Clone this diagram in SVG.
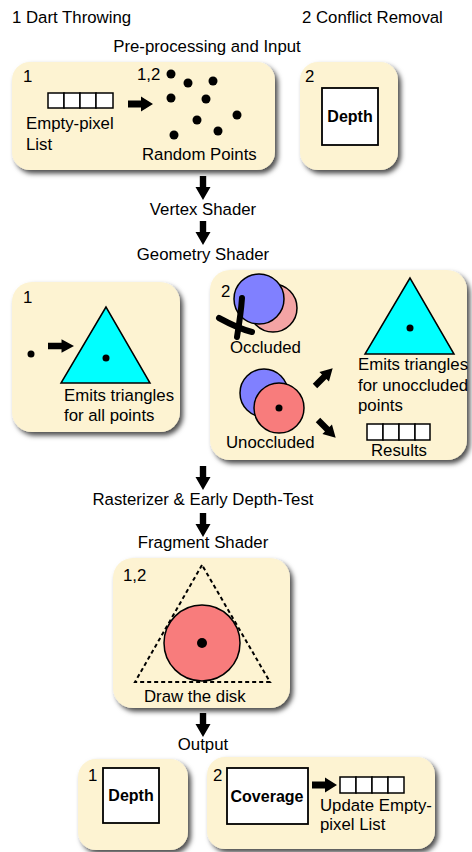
<svg xmlns="http://www.w3.org/2000/svg" width="472" height="852" viewBox="0 0 472 852">
<defs>
<filter id="sh" x="-10%" y="-10%" width="130%" height="130%">
<feDropShadow dx="3" dy="3.5" stdDeviation="2.5" flood-color="#000" flood-opacity="0.7"/>
</filter>
<path id="arr" d="M0,-3.5 H13 V-7.5 L25,0 L13,7.5 V3.5 H0 Z" fill="#000"/>
<path id="varr" d="M-3.2,0 H3.2 V11 H7.5 L0,24 L-7.5,11 H-3.2 Z" fill="#000"/>
</defs>
<style>
text{font-family:"Liberation Sans",Arial,sans-serif;font-size:16.8px;fill:#000}
.b{font-weight:bold;font-size:16px}
.c{text-anchor:middle}
.box{fill:#fdf3d2;filter:url(#sh)}
.cell{fill:#fff;stroke:#000;stroke-width:1.5}
.wb{fill:#fff;stroke:#000;stroke-width:1.8}
.tri{fill:#00ffff;stroke:#000;stroke-width:1.5}
.cir{stroke:#000;stroke-width:1.5}
</style>
<rect width="472" height="852" fill="#fff"/>
<text x="12" y="23">1 Dart Throwing</text>
<text x="302" y="23">2 Conflict Removal</text>
<text x="207" y="52" class="c">Pre-processing and Input</text>

<g id="input1">
<rect class="box" x="12" y="62" width="263" height="108" rx="18"/>
<text x="23" y="82">1</text>
<g class="cell"><rect x="48" y="93" width="16" height="15"/><rect x="64" y="93" width="16" height="15"/><rect x="80" y="93" width="16" height="15"/><rect x="96" y="93" width="17" height="15"/></g>
<text x="26" y="129">Empty-pixel</text>
<text x="26" y="150">List</text>
<use href="#arr" x="128" y="104"/>
<text x="137" y="80">1,2</text>
<g fill="#000"><circle cx="171" cy="74" r="4.5"/><circle cx="188" cy="83" r="4.5"/><circle cx="213" cy="81" r="4.5"/><circle cx="171" cy="98" r="4.5"/><circle cx="206" cy="99" r="4.5"/><circle cx="237" cy="115" r="4.5"/><circle cx="197" cy="120" r="4.5"/><circle cx="218" cy="131" r="4.5"/><circle cx="174" cy="135" r="4.5"/></g>
<text x="142" y="160">Random Points</text>
</g>

<g id="input2">
<rect class="box" x="300" y="62" width="98" height="108" rx="18"/>
<text x="305" y="82">2</text>
<rect class="wb" x="322" y="88" width="56" height="57"/>
<text x="350" y="122" class="b c">Depth</text>
</g>

<g id="connectors">
<use href="#varr" x="203" y="176"/>
<use href="#varr" x="203" y="221"/>
<use href="#varr" x="203" y="466"/>
<use href="#varr" x="203" y="513"/>
<use href="#varr" x="203" y="713"/>
</g>
<text x="203" y="215" class="c">Vertex Shader</text>
<text x="203" y="260" class="c">Geometry Shader</text>
<text x="203" y="505" class="c">Rasterizer &amp; Early Depth-Test</text>
<text x="203" y="548" class="c">Fragment Shader</text>
<text x="203" y="750" class="c">Output</text>

<g id="geom1">
<rect class="box" x="12" y="282" width="168" height="150" rx="20"/>
<text x="23" y="303">1</text>
<circle cx="31" cy="354" r="3.5"/>
<use href="#arr" transform="translate(48 346) scale(1.04 0.9)"/>
<polygon class="tri" points="106,307 61,383 150,383"/>
<circle cx="106" cy="358" r="3.5"/>
<text x="64" y="401">Emits triangles</text>
<text x="64" y="421">for all points</text>
</g>

<g id="geom2">
<rect class="box" x="210" y="270" width="257" height="190" rx="20"/>
<text x="221" y="297">2</text>
<circle class="cir" cx="273" cy="308" r="24" fill="#f4a4a4"/>
<circle class="cir" cx="259" cy="299" r="25" fill="#8080ff"/>
<path d="M242,298 C241,312 239,325 237,337" fill="none" stroke="#000" stroke-width="6" stroke-linecap="round"/>
<path d="M219,318 C230,324 240,329 252,332" fill="none" stroke="#000" stroke-width="6" stroke-linecap="round"/>
<text x="230" y="353">Occluded</text>
<circle class="cir" cx="264" cy="393" r="24" fill="#8080ff"/>
<circle class="cir" cx="279" cy="408" r="25" fill="#f87c7c"/>
<circle cx="279" cy="408" r="3.5"/>
<text x="226" y="448">Unoccluded</text>
<use href="#arr" transform="translate(315 386) rotate(-45) scale(1 0.9)"/>
<use href="#arr" transform="translate(318 420) rotate(45) scale(1 0.9)"/>
<polygon class="tri" points="410,278 365,354 454,354"/>
<circle cx="410" cy="328" r="3.5"/>
<text x="358" y="370">Emits triangles</text>
<text x="358" y="391">for unoccluded</text>
<text x="358" y="411">points</text>
<g class="cell"><rect x="367" y="424" width="16" height="16"/><rect x="383" y="424" width="16" height="16"/><rect x="399" y="424" width="16" height="16"/><rect x="415" y="424" width="15" height="16"/></g>
<text x="371" y="456">Results</text>
</g>

<g id="fragment">
<rect class="box" x="113" y="558" width="177" height="150" rx="20"/>
<text x="123" y="581">1,2</text>
<circle class="cir" cx="202" cy="643" r="38" fill="#f87c7c" stroke-width="2"/>
<circle cx="202" cy="643" r="5"/>
<polygon points="202,565 135,682 270,682" fill="none" stroke="#000" stroke-width="2" stroke-dasharray="4,3"/>
<text x="144" y="702">Draw the disk</text>
</g>

<g id="out1">
<rect class="box" x="78" y="759" width="110" height="91" rx="18"/>
<text x="88" y="781">1</text>
<rect class="wb" x="103" y="768" width="56" height="55"/>
<text x="131" y="801" class="b c">Depth</text>
</g>

<g id="out2">
<rect class="box" x="207" y="757" width="228" height="92" rx="18"/>
<text x="213" y="781">2</text>
<rect class="wb" x="227" y="768" width="81" height="56"/>
<text x="267" y="802" class="b c">Coverage</text>
<use href="#arr" x="312" y="785"/>
<g class="cell"><rect x="340" y="777" width="16" height="16"/><rect x="356" y="777" width="16" height="16"/><rect x="372" y="777" width="16" height="16"/><rect x="388" y="777" width="16" height="16"/></g>
<text x="320" y="811">Update Empty-</text>
<text x="320" y="830">pixel List</text>
</g>
</svg>
